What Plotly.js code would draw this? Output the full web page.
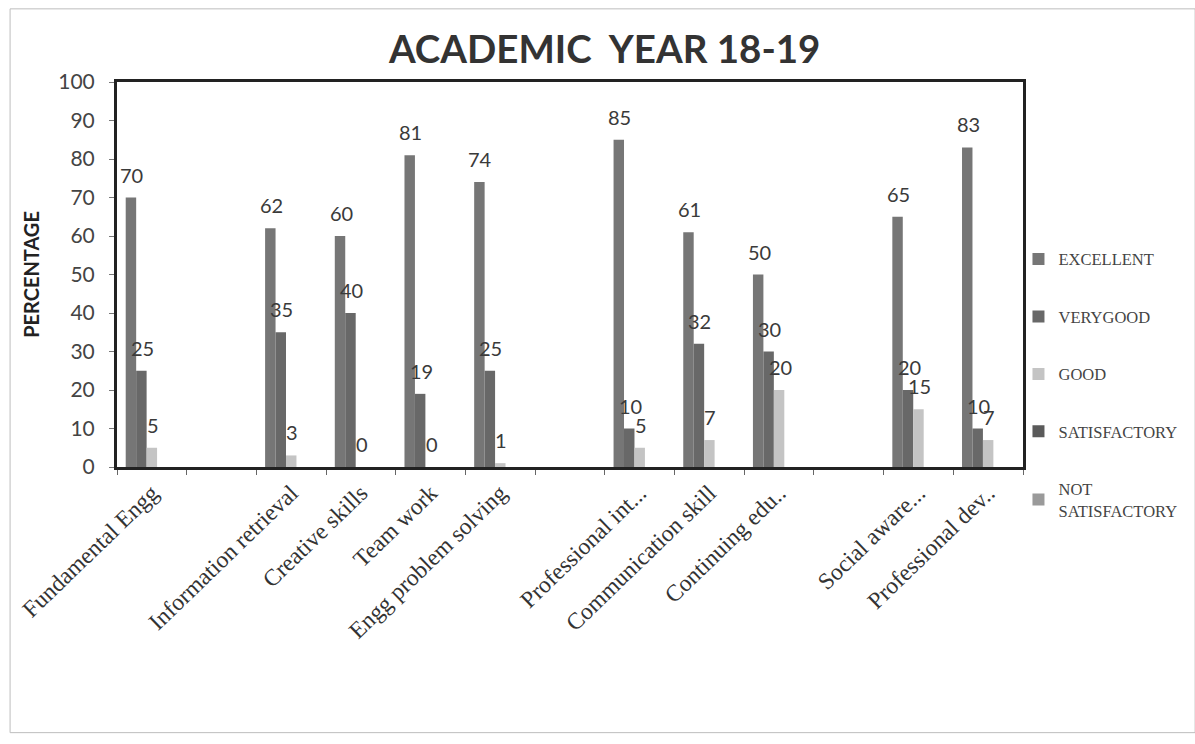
<!DOCTYPE html>
<html>
<head>
<meta charset="utf-8">
<script src="https://cdn.plot.ly/plotly-3.0.1.min.js"></script>
<style>html,body{margin:0;padding:0;background:#fff;}#chart{width:1195px;height:744px;}</style>
</head>
<body>
<div id="chart"></div>
<script>
// Categories (blank-space entries are the empty slots in the original chart)
const categories = ["Fundamental Engg", " ", "Information retrieval", "Creative skills", "Team work",
  "Engg problem solving", "  ", "Professional int...", "Communication skill", "Continuing edu..",
  "   ", "Social aware...", "Professional dev.."];
const seriesNames = ["EXCELLENT", "VERYGOOD", "GOOD", "SATISFACTORY", "NOT<br>SATISFACTORY"];
const excellent       = [70, null, 62, 60, 81, 74, null, 85, 61, 50, null, 65, 83];
const veryGood        = [25, null, 35, 40, 19, 25, null, 10, 32, 30, null, 20, 10];
const good            = [5,  null, 3,  0,  0,  1,  null, 5,  7,  20, null, 15, 7];
const satisfactory    = [0,  null, 0,  0,  0,  0,  null, 0,  0,  0,  null, 0,  0];
const notSatisfactory = [0,  null, 0,  0,  0,  0,  null, 0,  0,  0,  null, 0,  0];
const yTicks = [0, 10, 20, 30, 40, 50, 60, 70, 80, 90, 100];

const colors = ["#767676", "#686868", "#c4c4c4", "#5a5a5a", "#9a9a9a"];
const allSeries = [excellent, veryGood, good, satisfactory, notSatisfactory];
const labelled = [true, true, true, false, false];

// style constants
const W = 1195, H = 744;
const M = {l: 117, r: 172, t: 82, b: 277};
const BARGAP = 0.25;
const nSeries = allSeries.length;
const barPx = (W - M.l - M.r) / categories.length * (1 - BARGAP) / nSeries;

const traces = allSeries.map((vals, i) => ({
  type: "bar",
  name: seriesNames[i],
  x: categories,
  y: vals,
  legendgroup: "g" + i,
  marker: {color: colors[i], line: {width: 0}},
  hoverinfo: "none"
}));

// data labels, positioned through the axes at each bar's value
const annotations = [];
allSeries.forEach((vals, i) => {
  if (!labelled[i]) return;
  vals.forEach((v, j) => {
    if (v === null) return;
    annotations.push({
      x: categories[j], y: v, xref: "x", yref: "y",
      text: String(v), showarrow: false,
      xanchor: "center", yanchor: "middle",
      xshift: (i - (nSeries - 1) / 2) * barPx + 1,
      yshift: 23,
      font: {family: "Lato, 'Open Sans', sans-serif", size: 20, color: "#3a3a3a"}
    });
  });
});

const layout = {
  width: W, height: H,
  paper_bgcolor: "#ffffff", plot_bgcolor: "#ffffff",
  margin: M,
  barmode: "group",
  bargap: BARGAP, bargroupgap: 0,
  showlegend: true,
  title: {
    text: "ACADEMIC  YEAR 18-19",
    font: {family: "Lato, 'Open Sans', sans-serif", size: 38.5, color: "#333333", weight: "bold"},
    x: 0.506, xref: "container", xanchor: "center",
    y: 0.933, yref: "container", yanchor: "middle"
  },
  xaxis: {
    type: "category",
    categoryorder: "array", categoryarray: categories,
    tickangle: -44,
    tickfont: {family: "'Liberation Serif', 'DejaVu Serif', serif", size: 23.5, color: "#333333"},
    showline: true, linecolor: "#222222", linewidth: 3, mirror: true,
    ticks: "outside", tickson: "boundaries", ticklen: 5, tickcolor: "#666666",
    showgrid: false, zeroline: false, fixedrange: true
  },
  yaxis: {
    range: [0, 100],
    tickvals: yTicks,
    tickfont: {family: "Lato, 'Open Sans', sans-serif", size: 21, color: "#444444"},
    ticklabelstandoff: 10,
    showline: true, linecolor: "#222222", linewidth: 3, mirror: true,
    ticks: "outside", ticklen: 5, tickcolor: "#777777",
    showgrid: false, zeroline: false,
    title: {text: "PERCENTAGE", font: {family: "Lato, 'Open Sans', sans-serif", size: 20, color: "#222222", weight: "bold"}, standoff: 14},
    fixedrange: true
  },
  legend: {
    x: 0.995, xref: "paper", xanchor: "left",
    y: 0.585, yanchor: "top",
    font: {family: "'Liberation Serif', 'DejaVu Serif', serif", size: 16.5, color: "#444444"},
    tracegroupgap: 33,
    itemwidth: 30,
    bgcolor: "rgba(0,0,0,0)"
  },
  annotations: annotations,
  shapes: [{
    type: "rect", xref: "paper", yref: "paper",
    x0: -0.118, x1: 1.19, y0: -0.69, y1: 1.19,
    line: {color: "#bdbdbd", width: 1}
  }]
};

Plotly.newPlot("chart", traces, layout, {displayModeBar: false, staticPlot: true});
</script>
</body>
</html>
